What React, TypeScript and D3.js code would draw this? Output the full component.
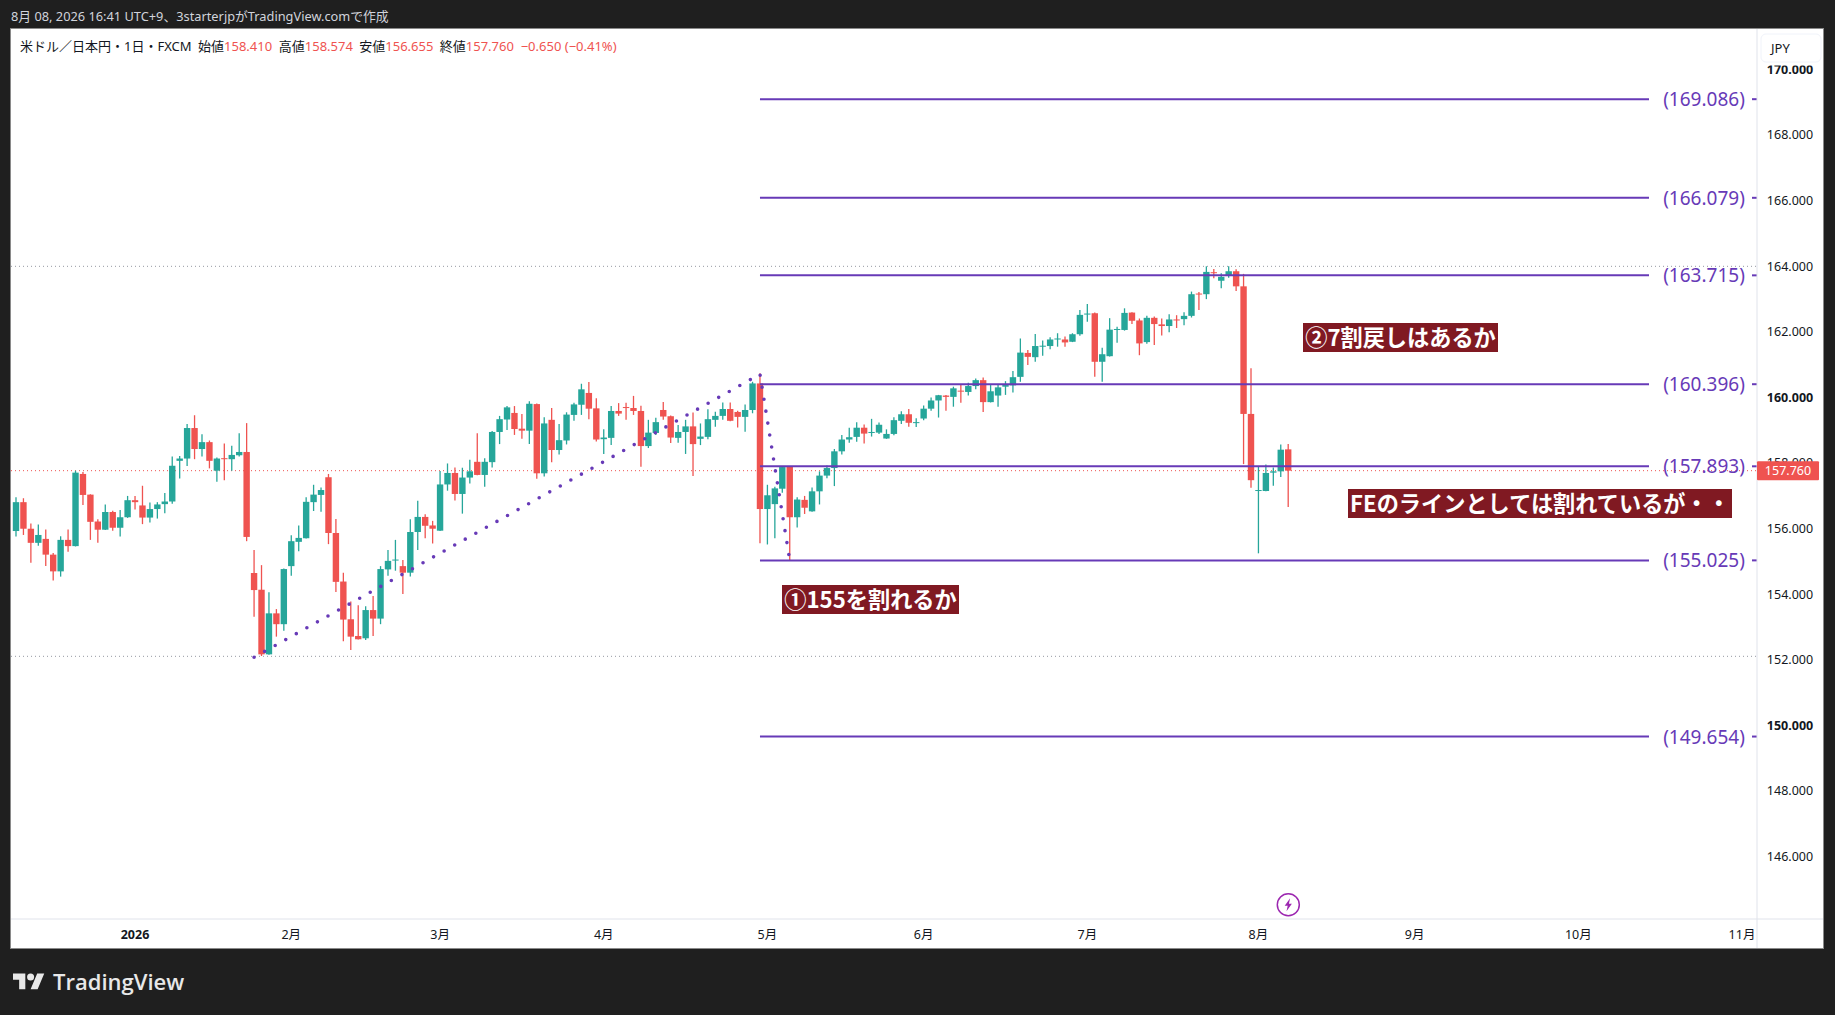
import * as d3 from 'd3'

// daily USD/JPY candles
const opens = [
  155.92, 156.80, 155.99, 155.56, 155.68, 155.20, 154.69, 155.65, 155.46, 157.66,
  157.03, 156.21, 155.96, 156.50, 156.02, 156.34, 156.86, 156.70, 156.33, 156.59,
  156.74, 156.82, 158.06, 158.13, 159.06, 158.42, 158.63, 157.76, 158.14, 158.11,
  158.23, 158.33, 154.64, 154.13, 152.16, 153.41, 153.08, 154.85, 155.59, 155.70,
  156.80, 157.02, 157.56, 155.86, 154.38, 153.23, 152.72, 152.65, 153.51, 153.25,
  154.75, 155.03, 154.85, 154.65, 155.89, 156.35, 156.09, 155.93, 157.34, 157.69,
  157.05, 157.55, 158.03, 157.63, 158.02, 158.94, 159.32, 159.52, 159.04, 158.98,
  159.79, 157.68, 159.31, 158.39, 158.68, 159.46, 159.77, 160.13, 159.66, 158.72,
  158.76, 159.58, 159.70, 159.67, 159.58, 158.51, 158.91, 159.61, 159.42, 158.76,
  158.94, 159.11, 158.73, 158.79, 159.31, 159.43, 159.64, 159.55, 159.40, 159.61,
  160.42, 156.59, 156.74, 157.21, 157.88, 156.34, 156.87, 156.52, 157.13, 157.61,
  157.84, 158.35, 158.71, 158.79, 159.07, 158.92, 158.92, 158.74, 158.88, 159.28,
  159.48, 159.22, 159.35, 159.65, 159.90, 160.05, 160.01, 160.20, 160.16, 160.34,
  160.52, 159.85, 160.05, 160.32, 160.36, 160.62, 161.35, 161.22, 161.54, 161.56,
  161.76, 161.76, 161.69, 161.92, 162.52, 162.56, 161.08, 161.25, 162.06, 162.05,
  162.58, 162.34, 161.68, 162.42, 162.22, 162.17, 162.37, 162.38, 162.48, 163.16,
  163.14, 163.81, 163.55, 163.70, 163.84, 163.38, 159.49, 157.15, 157.14, 157.70,
  157.74, 158.41,
]
const highs = [
  156.95, 156.92, 156.15, 156.12, 155.97, 155.25, 155.76, 155.97, 157.76, 157.72,
  157.04, 156.28, 156.73, 156.54, 156.56, 156.99, 156.99, 157.30, 156.79, 156.80,
  157.08, 158.19, 158.21, 159.18, 159.45, 158.87, 158.68, 158.16, 158.59, 158.52,
  158.90, 159.21, 155.34, 154.88, 154.05, 153.54, 154.78, 155.79, 156.09, 156.95,
  157.33, 157.25, 157.66, 156.29, 154.65, 153.77, 153.66, 153.63, 153.94, 154.85,
  155.34, 155.65, 155.04, 156.28, 156.84, 156.43, 156.23, 157.75, 157.98, 157.86,
  157.85, 158.09, 158.90, 158.14, 158.97, 159.43, 159.73, 159.73, 159.49, 159.88,
  159.81, 159.39, 159.67, 159.18, 159.54, 159.83, 160.41, 160.46, 159.97, 159.02,
  159.73, 159.82, 159.83, 160.04, 159.74, 159.31, 159.37, 159.85, 159.44, 159.15,
  159.31, 159.53, 159.20, 159.63, 159.56, 159.84, 159.84, 159.59, 159.78, 160.47,
  160.73, 157.33, 157.27, 157.90, 157.90, 156.95, 156.99, 157.25, 157.74, 157.92,
  158.42, 158.85, 159.07, 159.24, 159.17, 159.34, 159.23, 159.02, 159.39, 159.57,
  159.64, 159.36, 159.75, 159.99, 160.07, 160.07, 160.32, 160.40, 160.44, 160.57,
  160.60, 160.37, 160.40, 160.49, 160.80, 161.79, 161.44, 161.93, 161.73, 161.83,
  161.95, 161.85, 161.95, 162.66, 162.84, 162.58, 161.51, 162.41, 162.15, 162.71,
  162.59, 162.40, 162.48, 162.46, 162.40, 162.53, 162.50, 162.59, 163.22, 163.21,
  163.99, 163.91, 163.78, 163.99, 163.90, 163.76, 160.88, 157.88, 157.95, 157.86,
  158.56, 158.574,
]
const lows = [
  155.75, 155.80, 154.95, 155.47, 154.85, 154.41, 154.53, 155.29, 155.45, 156.71,
  155.65, 155.56, 155.95, 155.93, 155.75, 156.32, 156.58, 156.13, 156.18, 156.30,
  156.46, 156.75, 157.52, 157.90, 158.11, 158.19, 157.83, 157.42, 157.47, 157.76,
  158.19, 155.61, 153.31, 152.11, 152.15, 152.70, 152.88, 154.56, 155.30, 155.69,
  156.53, 156.51, 155.52, 154.06, 152.56, 152.29, 152.61, 152.60, 152.72, 153.08,
  154.56, 154.71, 154.00, 154.53, 155.34, 155.70, 155.54, 155.92, 157.15, 156.85,
  156.45, 157.37, 157.62, 157.27, 157.86, 158.57, 159.00, 158.85, 158.73, 158.57,
  157.51, 157.58, 158.02, 158.25, 158.56, 159.28, 159.46, 159.33, 158.65, 158.27,
  158.54, 159.43, 159.31, 159.46, 157.88, 158.45, 158.85, 159.31, 158.60, 158.61,
  158.27, 157.60, 158.54, 158.72, 159.10, 159.31, 159.27, 159.08, 158.95, 159.51,
  155.55, 155.51, 155.70, 157.09, 155.03, 156.03, 156.44, 156.51, 156.73, 157.53,
  157.29, 158.25, 158.61, 158.64, 158.59, 158.80, 158.88, 158.73, 158.84, 159.18,
  159.10, 159.09, 159.30, 159.59, 159.38, 159.59, 159.71, 159.83, 160.05, 160.24,
  159.55, 159.84, 159.71, 160.07, 160.14, 160.47, 160.98, 161.08, 161.26, 161.46,
  161.54, 161.54, 161.68, 161.87, 162.30, 160.62, 160.47, 161.24, 161.66, 162.03,
  162.23, 161.28, 161.63, 161.59, 161.88, 161.98, 162.11, 162.19, 162.43, 162.66,
  162.99, 163.63, 163.32, 163.64, 163.24, 157.96, 157.24, 155.24, 157.13, 157.30,
  157.57, 156.655,
]
const closes = [
  156.80, 155.99, 155.56, 155.80, 155.20, 154.69, 155.65, 155.46, 157.70, 157.02,
  156.20, 155.96, 156.50, 156.02, 156.34, 156.86, 156.80, 156.33, 156.59, 156.73,
  156.82, 157.91, 158.13, 159.06, 158.42, 158.63, 158.06, 158.13, 158.12, 158.24,
  158.33, 155.74, 154.12, 152.16, 153.41, 153.08, 154.76, 155.61, 155.71, 156.81,
  157.03, 157.17, 155.86, 154.37, 153.22, 152.70, 152.62, 153.51, 153.25, 154.76,
  155.01, 155.05, 154.65, 155.89, 156.35, 156.08, 155.99, 157.34, 157.69, 157.05,
  157.55, 157.74, 157.63, 158.03, 158.94, 159.33, 159.69, 159.03, 158.98, 159.80,
  157.68, 159.20, 158.39, 158.69, 159.47, 159.78, 160.24, 159.65, 158.71, 158.77,
  159.58, 159.50, 159.68, 159.58, 158.51, 158.92, 159.24, 159.41, 158.77, 158.94,
  159.11, 158.57, 158.80, 159.33, 159.43, 159.64, 159.28, 159.40, 159.61, 160.42,
  156.59, 157.01, 157.22, 157.87, 156.34, 156.88, 156.63, 157.13, 157.61, 157.84,
  158.35, 158.71, 158.78, 159.07, 158.89, 158.94, 159.16, 158.88, 159.30, 159.48,
  159.22, 159.24, 159.65, 159.90, 160.06, 160.01, 160.27, 160.17, 160.34, 160.52,
  159.85, 160.18, 160.30, 160.37, 160.61, 161.36, 161.23, 161.56, 161.57, 161.76,
  161.79, 161.67, 161.92, 162.51, 162.55, 161.08, 161.31, 162.06, 162.08, 162.57,
  162.33, 161.64, 162.42, 162.23, 162.17, 162.37, 162.35, 162.48, 163.14, 163.14,
  163.82, 163.79, 163.67, 163.84, 163.38, 159.49, 157.47, 157.17, 157.69, 157.74,
  158.40, 157.76,
]

const priceTicks = [146, 148, 150, 152, 154, 156, 158, 160, 162, 164, 166, 168, 170]
const boldPrices = [150, 160, 170]
const monthLabels = ['2026', '2月', '3月', '4月', '5月', '6月', '7月', '8月', '9月', '10月', '11月']
const monthBars = [16, 37, 57, 79, 101, 122, 144, 167, 188, 210, 232]

const fibLevels = [169.086, 166.079, 163.715, 160.396, 157.893, 155.025, 149.654]
const fibStartBar = 100
// the dotted three point path of the fib tool [bar, price]
const fibPathBars = [32, 100, 104]
const fibPathPrices = [152.07, 160.7, 155.03]

const dayHigh = 163.99
const dayLow = 152.1
const lastPrice = 157.76

const legendName = '米ドル／日本円・1日・FXCM'
const legendItems = [
  ['始値', '158.410'],
  ['高値', '158.574'],
  ['安値', '156.655'],
  ['終値', '157.760'],
]
const legendChange = '−0.650 (−0.41%)'

const UP = '#26a69a'
const DOWN = '#ef5350'
const PURPLE = '#673ab7'
const NOTE_BG = '#801922'
const UI_FONT = '"Noto Sans", "Noto Sans CJK JP", sans-serif'
const JP_FONT = '"Noto Sans CJK JP", sans-serif'

const notes = [
  { text: '①155を割れるか', x: 782, y: 585, w: 177, h: 29 },
  { text: '②7割戻しはあるか', x: 1303, y: 323, w: 195, h: 29 },
  { text: 'FEのラインとしては割れているが・・', x: 1348, y: 489, w: 384, h: 29 },
]

export default function App() {
  const width = 1835
  const height = 1015
  const left = 11
  const top = 29
  const right = 1823
  const bottom = 948
  const axisX = 1757
  const axisY = 919

  const x = d3.scaleLinear().domain([0, 171]).range([16, 1288.2])
  const y = d3.scaleLinear().domain([146, 170]).range([856.4, 69.2])
  const bodyW = 6.4

  const pathLine = d3.line<number>()
    .x((d) => x(d))
    .y((_, i) => y(fibPathPrices[i]))

  const legendXs = [198, 278.8, 359.3, 439.8]

  return (
    <svg
      width={width}
      height={height}
      style={{ position: 'fixed', left: 0, top: 0, display: 'block' }}
    >
      <rect width={width} height={height} fill="#1f1f1f" />
      <rect x={left} y={top} width={right - left} height={bottom - top} fill="#ffffff" />
      <rect x={left - 0.5} y={top - 0.5} width={right - left + 1} height={bottom - top + 1} fill="none" stroke="#8a8a8a" />

      <text x={11} y={21} fontSize={12.8} fill="#d1d4dc" fontFamily={UI_FONT}>
        8月 08, 2026 16:41 UTC+9、3starterjpがTradingView.comで作成
      </text>

      {/* day high, day low and last price guides */}
      {[dayHigh, dayLow].map((p) => (
        <line key={p} x1={left} x2={axisX} y1={y(p)} y2={y(p)} stroke="#9598a1" strokeDasharray="1 3" />
      ))}
      <line x1={left} x2={axisX} y1={y(lastPrice)} y2={y(lastPrice)} stroke={DOWN} strokeDasharray="1 3" />

      {/* candles */}
      {closes.map((c, i) => {
        const up = c >= opens[i]
        const color = up ? UP : DOWN
        const yTop = y(Math.max(opens[i], c))
        const yBot = y(Math.min(opens[i], c))
        return (
          <g key={i}>
            <line x1={x(i)} x2={x(i)} y1={y(highs[i])} y2={y(lows[i])} stroke={color} strokeWidth={1.3} />
            <rect x={x(i) - bodyW / 2} y={yTop} width={bodyW} height={Math.max(yBot - yTop, 1)} fill={color} />
          </g>
        )
      })}

      {/* fib tool */}
      <path
        d={pathLine(fibPathBars) ?? ''}
        fill="none"
        stroke={PURPLE}
        strokeWidth={3.6}
        strokeLinecap="round"
        strokeDasharray="0 12.1"
      />
      {fibLevels.map((p) => (
        <g key={p}>
          <line x1={x(fibStartBar)} x2={1649} y1={y(p)} y2={y(p)} stroke={PURPLE} strokeWidth={2} />
          <line x1={1752} x2={axisX} y1={y(p)} y2={y(p)} stroke={PURPLE} strokeWidth={2} />
          <text x={1704} y={y(p)} textAnchor="middle" dominantBaseline="central" fontSize={19} fill={PURPLE} fontFamily={UI_FONT}>
            ({p.toFixed(3)})
          </text>
        </g>
      ))}

      {/* text notes */}
      {notes.map((n) => (
        <g key={n.text}>
          <rect x={n.x} y={n.y} width={n.w} height={n.h} fill={NOTE_BG} />
          <text
            x={n.x + n.w / 2}
            y={n.y + n.h / 2 - 1.5}
            textAnchor="middle"
            dominantBaseline="central"
            fontSize={22.2}
            fontWeight={700}
            fill="#ffffff"
            fontFamily={JP_FONT}
          >
            {n.text}
          </text>
        </g>
      ))}

      {/* legend */}
      <g fontSize={13} fontFamily={UI_FONT} fill="#131722">
        <text x={20} y={51}>{legendName}</text>
        {legendItems.map(([name, value], i) => (
          <text key={name} x={legendXs[i]} y={51}>
            {name}
            <tspan fill={DOWN}>{value}</tspan>
          </text>
        ))}
        <text x={520.7} y={51} fill={DOWN}>{legendChange}</text>
      </g>

      {/* price axis */}
      <line x1={axisX} x2={axisX} y1={top} y2={bottom} stroke="#e0e3eb" />
      <g fontSize={12.5} fontFamily={UI_FONT} fill="#131722">
        {priceTicks.map((p) => (
          <text
            key={p}
            x={1790}
            y={y(p)}
            textAnchor="middle"
            dominantBaseline="central"
            fontWeight={boldPrices.includes(p) ? 700 : 400}
          >
            {d3.format('.3f')(p)}
          </text>
        ))}
      </g>
      <rect x={1758} y={30} width={64} height={35.5} fill="#ffffff" />
      <rect x={1761} y={34} width={60} height={28} rx={5} fill="#ffffff" stroke="#f0f3fa" />
      <text x={1771} y={48} dominantBaseline="central" fontSize={13} fontFamily={UI_FONT} fill="#131722">JPY</text>
      <rect x={axisX} y={y(lastPrice) - 9.5} width={62} height={19} rx={1} fill={DOWN} />
      <text x={1788} y={y(lastPrice)} textAnchor="middle" dominantBaseline="central" fontSize={12.5} fontFamily={UI_FONT} fill="#ffffff">
        {lastPrice.toFixed(3)}
      </text>

      {/* time axis */}
      <line x1={left} x2={right} y1={axisY} y2={axisY} stroke="#e0e3eb" />
      <g fontSize={12.5} fontFamily={UI_FONT} fill="#131722" textAnchor="middle">
        {monthLabels.map((m, i) => (
          <text key={m} x={x(monthBars[i])} y={934} dominantBaseline="central" fontWeight={m === '2026' ? 700 : 400}>
            {m}
          </text>
        ))}
      </g>

      {/* news marker */}
      <g transform="translate(1288.3,904.7)">
        <circle r={11} fill="#ffffff" stroke="#9c27b0" strokeWidth={1.5} />
        <path d="M1.8 -6.5 L-3.6 1 L-0.6 1 L-1.8 6.5 L3.6 -1 L0.6 -1 Z" fill="#9c27b0" />
      </g>

      {/* watermark */}
      <g transform="translate(13,970) scale(0.88)" fill="#e8e8e8">
        <path d="M14 22H7V11H0V4h14v18zM28 22h-8l7.5-18h8L28 22z" />
        <circle cx={20} cy={8} r={4} />
      </g>
      <text x={53} y={981} dominantBaseline="central" fontSize={22} fontWeight={600} fill="#e8e8e8" fontFamily='"Open Sans", "Noto Sans", sans-serif'>
        TradingView
      </text>
    </svg>
  )
}
